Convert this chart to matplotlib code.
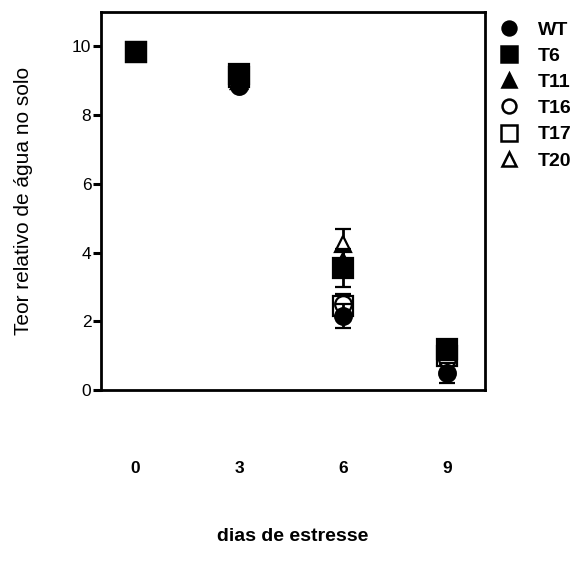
import matplotlib
matplotlib.use("Agg")
import matplotlib.pyplot as plt
from matplotlib.lines import Line2D

plt.rcParams['font.family'] = ['Liberation Sans', 'DejaVu Sans']

dias = [0, 3, 6, 9]
linhagens = ['WT', 'T6', 'T11', 'T16', 'T17', 'T20']

# media e erro padrao de cada linhagem
wt = [9.85, 8.85, 2.15, 0.50]
wt_err = [0.05, 0.10, 0.35, 0.30]
t6 = [9.85, 9.20, 3.55, 1.20]
t6_err = [0.05, 0.10, 0.55, 0.10]
t11 = [9.85, 9.00, 3.75, 1.10]
t11_err = [0.05, 0.10, 0.30, 0.10]
t16 = [9.85, 9.05, 2.50, 0.90]
t16_err = [0.05, 0.10, 0.30, 0.15]
t17 = [9.85, 9.10, 2.45, 1.00]
t17_err = [0.05, 0.10, 0.30, 0.15]
t20 = [9.85, 9.00, 4.25, 0.95]
t20_err = [0.05, 0.10, 0.45, 0.15]

medias = [wt, t6, t11, t16, t17, t20]
erros = [wt_err, t6_err, t11_err, t16_err, t17_err, t20_err]
marcadores = ['o', 's', '^', 'o', 's', '^']
preenchido = [True, True, True, False, False, False]
camadas = [9, 10, 8, 6, 5, 4]  # preenchidos por cima dos vazios

fig = plt.figure(figsize=(5.77, 5.72), dpi=100)
ax = fig.add_axes([0.175, 0.318, 0.666, 0.661])

handles = []
for nome, y, e, m, cheio, z in zip(linhagens, medias, erros, marcadores,
                                   preenchido, camadas):
    fc = 'black' if cheio else 'white'
    tam = 14 if m == 's' else 12
    ax.errorbar(dias, y, yerr=e, fmt=m, color='black', ms=tam,
                mfc=fc, mec='black', mew=1.6,
                ecolor='black', elinewidth=2, capsize=6, capthick=2,
                zorder=z)
    handles.append(Line2D([], [], ls='none', marker=m, ms=tam - 2, mfc=fc,
                          mec='black', mew=1.8, label=nome))

ax.set_xlim(-1, 10.1)
ax.set_ylim(0, 11)
ax.set_yticks([0, 2, 4, 6, 8, 10])
ax.set_xticks(dias)
ax.set_xticklabels(['0', '3', '6', '9'], fontweight='bold')
ax.tick_params(axis='x', length=0, pad=51, labelsize=12.5)
ax.tick_params(axis='y', direction='out', length=6, width=2.2, labelsize=12.5, pad=1)
for s in ax.spines.values():
    s.set_linewidth(2)

ax.set_ylabel('Teor relativo de água no solo', fontsize=15, labelpad=28)
ax.set_xlabel('dias de estresse', fontsize=14, fontweight='bold')
ax.xaxis.set_label_coords(0.5, -0.365)

ax.legend(handles=handles, loc='upper left', bbox_to_anchor=(1.0, 1.012),
          frameon=False, prop={'weight': 'bold', 'size': 14}, handlelength=1.0,
          handletextpad=1.0, labelspacing=0.44, borderaxespad=0.3)

fig.savefig('out.png', dpi=100)
